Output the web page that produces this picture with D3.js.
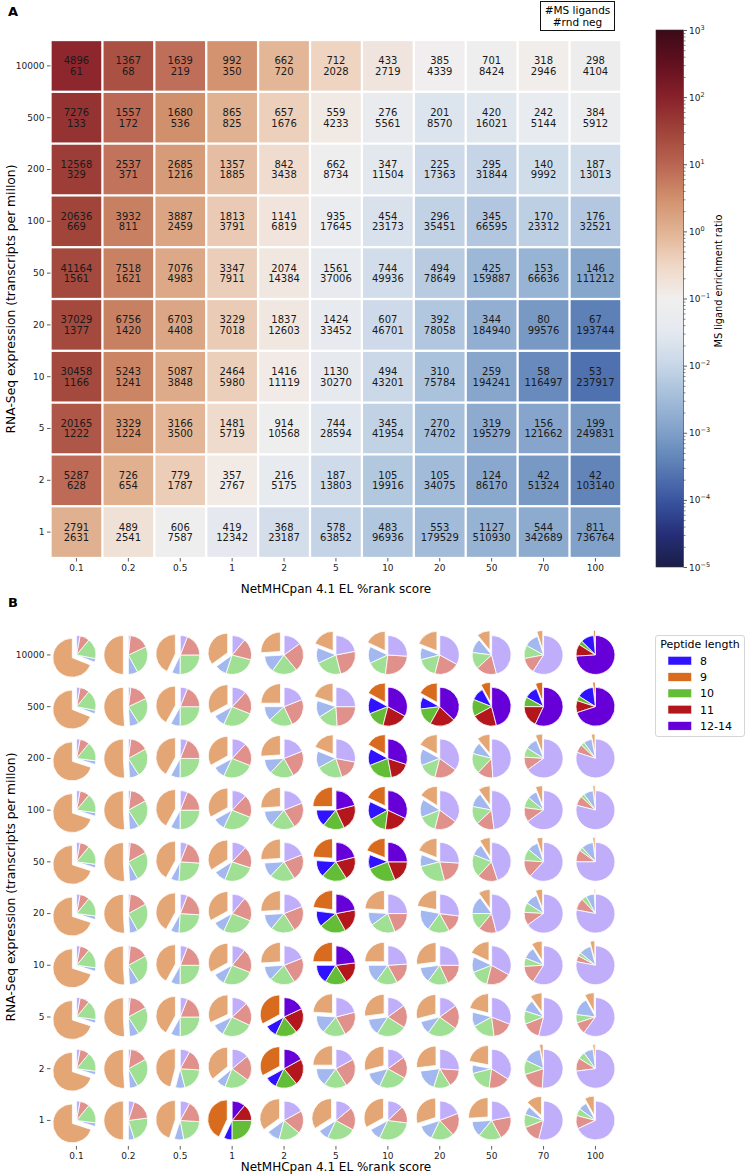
<!DOCTYPE html>
<html><head><meta charset="utf-8">
<script src="https://cdn.jsdelivr.net/npm/d3@7"></script>
<style>
body{margin:0;background:#fff}
svg{font-family:"DejaVu Sans",sans-serif}
</style>
</head><body>
<svg id="c" width="747" height="1175"></svg>
<script>
// ---------------- DATA ----------------
const rankLabels = ["0.1","0.2","0.5","1","2","5","10","20","50","70","100"];
const exprLabels = ["10000","500","200","100","50","20","10","5","2","1"];

const msLigands = [
 [4896,1367,1639,992,662,712,433,385,701,318,298],
 [7276,1557,1680,865,657,559,276,201,420,242,384],
 [12568,2537,2685,1357,842,662,347,225,295,140,187],
 [20636,3932,3887,1813,1141,935,454,296,345,170,176],
 [41164,7518,7076,3347,2074,1561,744,494,425,153,146],
 [37029,6756,6703,3229,1837,1424,607,392,344,80,67],
 [30458,5243,5087,2464,1416,1130,494,310,259,58,53],
 [20165,3329,3166,1481,914,744,345,270,319,156,199],
 [5287,726,779,357,216,187,105,105,124,42,42],
 [2791,489,606,419,368,578,483,553,1127,544,811]
];
const rndNeg = [
 [61,68,219,350,720,2028,2719,4339,8424,2946,4104],
 [133,172,536,825,1676,4233,5561,8570,16021,5144,5912],
 [329,371,1216,1885,3438,8734,11504,17363,31844,9992,13013],
 [669,811,2459,3791,6819,17645,23173,35451,66595,23312,32521],
 [1561,1621,4983,7911,14384,37006,49936,78649,159887,66636,111212],
 [1377,1420,4408,7018,12603,33452,46701,78058,184940,99576,193744],
 [1166,1241,3848,5980,11119,30270,43201,75784,194241,116497,237917],
 [1222,1224,3500,5719,10568,28594,41954,74702,195279,121662,249831],
 [628,654,1787,2767,5175,13803,19916,34075,86170,51324,103140],
 [2631,2541,7587,12342,23187,63852,96936,179529,510930,342689,736764]
];

const colorbarExponents = [-5,-4,-3,-2,-1,0,1,2,3];

const lengthGroups = ["8","9","10","11","12-14"];
// fractions per pie: [8, 9, 10, 11, 12-14]
const pieFractions = [
 [[.03,.69,.17,.08,.03],[.08,.50,.24,.165,.015],[.07,.43,.25,.19,.06],[.10,.35,.26,.18,.11],[.14,.26,.21,.24,.15],[.13,.19,.22,.24,.22],[.14,.18,.16,.26,.26],[.10,.19,.17,.21,.33],[.12,.11,.14,.17,.46],[.12,.05,.11,.13,.59],[.11,.015,.035,.10,.74]],
 [[.03,.69,.17,.08,.03],[.08,.51,.23,.16,.02],[.08,.42,.25,.19,.06],[.10,.33,.26,.19,.12],[.12,.25,.20,.24,.19],[.14,.20,.17,.24,.25],[.14,.17,.15,.21,.33],[.10,.17,.15,.21,.37],[.11,.08,.14,.21,.46],[.11,.06,.08,.18,.57],[.14,.02,.04,.10,.70]],
 [[.03,.70,.16,.08,.03],[.08,.51,.24,.15,.02],[.08,.42,.25,.19,.06],[.10,.33,.26,.19,.12],[.12,.26,.20,.23,.19],[.14,.19,.22,.17,.28],[.14,.17,.22,.17,.30],[.14,.17,.15,.19,.35],[.10,.11,.17,.13,.49],[.10,.06,.08,.11,.65],[.07,.03,.03,.07,.80]],
 [[.03,.70,.16,.08,.03],[.08,.51,.24,.15,.02],[.08,.42,.25,.19,.06],[.10,.33,.26,.19,.12],[.13,.26,.20,.22,.19],[.14,.25,.18,.22,.21],[.15,.18,.15,.20,.32],[.15,.16,.15,.19,.35],[.12,.10,.15,.15,.48],[.08,.06,.09,.12,.65],[.08,.02,.03,.08,.79]],
 [[.03,.70,.16,.08,.03],[.07,.51,.25,.155,.015],[.07,.42,.25,.20,.06],[.10,.34,.26,.18,.12],[.12,.26,.21,.22,.19],[.14,.24,.21,.20,.21],[.12,.19,.25,.19,.25],[.10,.19,.25,.20,.26],[.10,.09,.19,.17,.45],[.09,.05,.10,.14,.62],[.10,.02,.03,.10,.75]],
 [[.03,.70,.16,.08,.03],[.07,.51,.25,.155,.015],[.07,.42,.25,.20,.06],[.10,.33,.26,.20,.11],[.13,.26,.20,.22,.19],[.13,.23,.22,.20,.22],[.11,.24,.21,.19,.25],[.18,.22,.18,.15,.27],[.15,.10,.14,.15,.46],[.10,.06,.08,.11,.65],[.07,.01,.04,.10,.78]],
 [[.03,.70,.16,.08,.03],[.08,.51,.24,.155,.015],[.08,.42,.25,.19,.06],[.10,.33,.26,.20,.11],[.12,.26,.21,.22,.19],[.16,.25,.18,.18,.23],[.15,.25,.18,.18,.24],[.13,.27,.17,.18,.25],[.13,.18,.15,.21,.33],[.10,.09,.07,.15,.59],[.10,.04,.03,.05,.78]],
 [[.03,.70,.16,.08,.03],[.08,.51,.24,.155,.015],[.08,.42,.25,.19,.06],[.10,.32,.26,.19,.13],[.10,.33,.18,.21,.18],[.15,.24,.19,.21,.21],[.14,.27,.25,.19,.15],[.11,.29,.25,.20,.15],[.12,.21,.19,.17,.31],[.10,.10,.11,.15,.54],[.15,.08,.07,.10,.60]],
 [[.03,.70,.16,.08,.03],[.07,.51,.25,.15,.02],[.08,.46,.20,.18,.08],[.08,.36,.21,.21,.14],[.10,.33,.18,.22,.17],[.15,.25,.19,.24,.17],[.14,.29,.24,.18,.15],[.18,.27,.14,.15,.26],[.07,.22,.19,.18,.34],[.15,.03,.12,.19,.51],[.08,.02,.06,.11,.73]],
 [[.03,.70,.16,.08,.03],[.05,.50,.22,.18,.05],[.08,.45,.21,.18,.08],[.07,.43,.25,.14,.11],[.11,.35,.18,.19,.17],[.09,.34,.24,.19,.14],[.10,.33,.30,.14,.13],[.13,.30,.19,.19,.19],[.13,.26,.19,.20,.22],[.07,.13,.11,.15,.54],[.07,.08,.06,.11,.68]]
];
// pies drawn in full colour: [expression, rank]
const highlighted = [
 ["10000","100"],
 ["500","10"],["500","20"],["500","50"],["500","70"],["500","100"],
 ["200","10"],
 ["100","5"],["100","10"],
 ["50","5"],["50","10"],
 ["20","5"],["10","5"],["5","2"],["2","2"],["1","1"]
];

// ---------------- STYLE ----------------
const brightColors = ["#2f12ff","#d86b1d","#63bd37","#b3171c","#6700d8"];
const paleColors   = ["#a3b8ee","#e4a674","#a0e094","#e0918c","#c1aefb"];
const cmapStops = ["#1a1d47","#252f78","#3a55a0","#5a7db5","#7f9fc8","#a2bcd9","#c7d6e7","#e4e9ef","#f1efee","#efd7c6","#e1b393","#d1906c","#b96452","#a04439","#88202a","#62101f","#3c0a16"];
const interp = d3.piecewise(d3.interpolateRgb, cmapStops);
const tickColor = "#333";

const svg = d3.select("#c");

// ---------------- PANEL A ----------------
const xA = d3.scaleBand().domain(rankLabels).range([50.5, 621.4]);
const yA = d3.scaleBand().domain(exprLabels).range([40, 558]);
const logNorm = d3.scaleLog().domain([1e-5, 1e3]).range([0, 1]).clamp(true);
const color = v => interp(logNorm(v));

svg.append("text").attr("x", 8).attr("y", 16).attr("font-size", 13).attr("font-weight", "bold").text("A");

const gA = svg.append("g");
const cells = [];
exprLabels.forEach((e, i) => rankLabels.forEach((r, j) => cells.push({e, r, ms: msLigands[i][j], neg: rndNeg[i][j]})));
const ins = 1.15;
gA.selectAll("rect.cell").data(cells).join("rect")
  .attr("x", d => xA(d.r) + ins).attr("y", d => yA(d.e) + ins)
  .attr("width", xA.bandwidth() - 2*ins).attr("height", yA.bandwidth() - 2*ins)
  .attr("fill", d => color(d.ms / d.neg));
const tg = gA.selectAll("text.cell").data(cells).join("text")
  .attr("text-anchor", "middle").attr("font-size", 10).attr("fill", "#1a1a1a");
tg.append("tspan").attr("x", d => xA(d.r) + xA.bandwidth()/2).attr("y", d => yA(d.e) + yA.bandwidth()/2 - 1.5).text(d => d.ms);
tg.append("tspan").attr("x", d => xA(d.r) + xA.bandwidth()/2).attr("y", d => yA(d.e) + yA.bandwidth()/2 + 8.8).text(d => d.neg);

function styleAxis(g) {
  g.select(".domain").remove();
  g.selectAll(".tick line").attr("stroke", tickColor).attr("stroke-width", 0.8);
  g.selectAll(".tick text").attr("fill", "#222").attr("font-size", 9).attr("font-family", '"DejaVu Sans",sans-serif');
}
svg.append("g").attr("transform", "translate(50.5,0)")
  .call(d3.axisLeft(yA).tickSize(3.5).tickPadding(2.5)).call(styleAxis);
svg.append("g").attr("transform", "translate(0,558)")
  .call(d3.axisBottom(xA).tickSize(3.5).tickPadding(3)).call(styleAxis);

svg.append("text").attr("x", 336).attr("y", 593).attr("text-anchor", "middle").attr("font-size", 12).text("NetMHCpan 4.1 EL %rank score");
svg.append("text").attr("transform", "translate(15,299) rotate(-90)").attr("text-anchor", "middle").attr("font-size", 12.3).text("RNA-Seq expression (transcripts per millon)");

// annotation box
const box = svg.append("g");
box.append("rect").attr("x", 540.5).attr("y", 1.5).attr("width", 74).attr("height", 29).attr("fill", "#fff").attr("stroke", "#111").attr("stroke-width", 1);
box.append("text").attr("x", 577.5).attr("y", 13.5).attr("text-anchor", "middle").attr("font-size", 10.5).text("#MS ligands");
box.append("text").attr("x", 577.5).attr("y", 26).attr("text-anchor", "middle").attr("font-size", 10.5).text("#rnd neg");

// colorbar
const cbX = 656, cbW = 27.5, cbTop = 30, cbBot = 567;
const cbScale = d3.scaleLog().domain([1e-5, 1e3]).range([cbBot, cbTop]);
const defs = svg.append("defs");
const grad = defs.append("linearGradient").attr("id", "cbg").attr("x1", 0).attr("y1", 1).attr("x2", 0).attr("y2", 0);
d3.range(0, 1.0001, 0.02).forEach(t => grad.append("stop").attr("offset", t).attr("stop-color", interp(t)));
svg.append("rect").attr("x", cbX).attr("y", cbTop).attr("width", cbW).attr("height", cbBot - cbTop).attr("fill", "url(#cbg)");
const majorVals = colorbarExponents.map(e => Math.pow(10, e));
const minorVals = [];
colorbarExponents.slice(0, -1).forEach(e => { for (let k = 2; k <= 9; k++) minorVals.push(k * Math.pow(10, e)); });
const cbAxisG = svg.append("g").attr("transform", `translate(${cbX + cbW},0)`);
cbAxisG.call(d3.axisRight(cbScale).tickValues(minorVals).tickSize(2).tickFormat(""));
cbAxisG.select(".domain").remove();
cbAxisG.selectAll(".tick line").attr("stroke", tickColor).attr("stroke-width", 0.6);
const cbMajG = svg.append("g").attr("transform", `translate(${cbX + cbW},0)`);
cbMajG.call(d3.axisRight(cbScale).tickValues(majorVals).tickSize(3.5).tickPadding(2).tickFormat(""));
cbMajG.select(".domain").remove();
cbMajG.selectAll(".tick line").attr("stroke", tickColor).attr("stroke-width", 0.8);
cbMajG.selectAll(".tick").each(function(d) {
  const e = Math.round(Math.log10(d));
  const t = d3.select(this).append("text").attr("x", 5.5).attr("y", 3).attr("font-size", 9).attr("fill", "#222").attr("font-family", '"DejaVu Sans",sans-serif');
  t.append("tspan").text("10");
  t.append("tspan").attr("dy", -4).attr("font-size", 6.5).text(e < 0 ? "\u2212" + (-e) : String(e));
});
svg.append("rect").attr("x", cbX).attr("y", cbTop).attr("width", cbW).attr("height", cbBot - cbTop).attr("fill", "none").attr("stroke", "#333").attr("stroke-width", 0.6);
svg.append("text").attr("transform", "translate(722,281) rotate(-90)").attr("text-anchor", "middle").attr("font-size", 9.8).text("MS ligand enrichment ratio");

// ---------------- PANEL B ----------------
svg.append("text").attr("x", 8).attr("y", 607).attr("font-size", 13).attr("font-weight", "bold").text("B");
const yB = d3.scaleBand().domain(exprLabels).range([629.1, 1146.3]);
const R = 19.5, explode = 5;
const order = [1, 0, 2, 3, 4]; // CCW from 12 o'clock: 9, 8, 10, 11, 12-14
const pie = d3.pie().sort(null).value(d => d.v).startAngle(0).endAngle(-2 * Math.PI);
const arc = d3.arc().innerRadius(0).outerRadius(R);
const hiSet = new Set(highlighted.map(h => h[0] + "|" + h[1]));
const gB = svg.append("g");
exprLabels.forEach((e, i) => rankLabels.forEach((r, j) => {
  const cx = xA(r) + xA.bandwidth() / 2, cy = yB(e) + yB.bandwidth() / 2;
  const bright = hiSet.has(e + "|" + r);
  const arcs = pie(order.map(k => ({k, v: pieFractions[i][j][k]})));
  const g = gB.append("g").attr("transform", `translate(${cx},${cy})`);
  g.selectAll("path").data(arcs).join("path")
    .attr("d", arc)
    .attr("transform", a => {
      if (a.data.k !== 1) return null;
      const m = (a.startAngle + a.endAngle) / 2;
      return `translate(${Math.sin(m) * explode},${-Math.cos(m) * explode})`;
    })
    .attr("fill", a => (bright ? brightColors : paleColors)[a.data.k])
    .attr("stroke", "#fff").attr("stroke-width", 0.8).attr("stroke-linejoin", "round");
}));
svg.append("g").attr("transform", "translate(50.5,0)")
  .call(d3.axisLeft(yB).tickSize(3.5).tickPadding(2.5)).call(styleAxis);
svg.append("g").attr("transform", "translate(0,1146)")
  .call(d3.axisBottom(xA).tickSize(3.5).tickPadding(3)).call(styleAxis);
svg.append("text").attr("x", 336).attr("y", 1171).attr("text-anchor", "middle").attr("font-size", 12).text("NetMHCpan 4.1 EL %rank score");
svg.append("text").attr("transform", "translate(15,887) rotate(-90)").attr("text-anchor", "middle").attr("font-size", 12.3).text("RNA-Seq expression (transcripts per millon)");

// legend
const lg = svg.append("g");
lg.append("rect").attr("x", 655.5).attr("y", 635.5).attr("width", 89).attr("height", 101).attr("rx", 2.5)
  .attr("fill", "#fff").attr("fill-opacity", 0.8).attr("stroke", "#ccc").attr("stroke-width", 0.8);
lg.append("text").attr("x", 700).attr("y", 648).attr("text-anchor", "middle").attr("font-size", 11).text("Peptide length");
lengthGroups.forEach((name, k) => {
  const yy = 660.7 + k * 16.3;
  lg.append("rect").attr("x", 668).attr("y", yy - 4.3).attr("width", 23.5).attr("height", 8.6).attr("fill", brightColors[k]).attr("stroke", "#fff").attr("stroke-width", 0.5);
  lg.append("text").attr("x", 700).attr("y", yy + 4).attr("font-size", 11).text(name);
});
</script>
</body></html>
